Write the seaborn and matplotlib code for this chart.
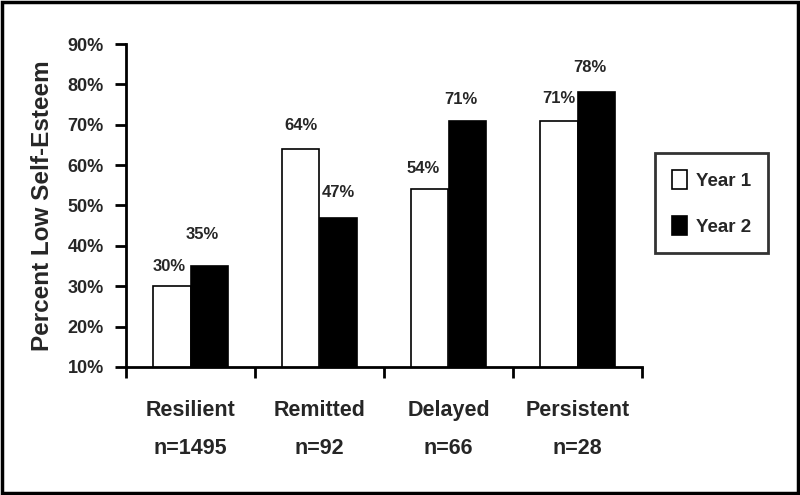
import matplotlib
matplotlib.use("Agg")
import matplotlib.pyplot as plt
import seaborn as sns
import pandas as pd
from matplotlib.patches import Rectangle

groups = ["Resilient", "Remitted", "Delayed", "Persistent"]
group_n = ["n=1495", "n=92", "n=66", "n=28"]
years = ["Year 1", "Year 2"]
year1 = [30, 64, 54, 71]
year2 = [35, 47, 71, 78]
y_ticks = [10, 20, 30, 40, 50, 60, 70, 80, 90]

sns.set_theme(style="white")
plt.rcParams["font.family"] = ["Liberation Sans", "DejaVu Sans"]
plt.rcParams["font.weight"] = "bold"

df = pd.DataFrame({
    "group": groups * 2,
    "year": [years[0]] * 4 + [years[1]] * 4,
    "value": year1 + year2,
})

fig = plt.figure(figsize=(8, 4.95), dpi=100)
ax = fig.add_axes([0.1575, 0.2586, 0.645, 0.6525])
sns.barplot(data=df, x="group", y="value", hue="year", order=groups,
            hue_order=years, palette=["white", "black"], edgecolor="black",
            linewidth=1.2, width=0.574, ax=ax, legend=True)

ax.set_ylim(10, 90)
ax.set_xlim(-0.5, 3.5)
ax.set_yticks(y_ticks)
ax.set_yticklabels([f"{v}%" for v in y_ticks], fontsize=13, fontweight="bold")
ax.set_xticks([-0.5, 0.5, 1.5, 2.5, 3.5])
ax.set_xticklabels([])
ax.set_xticks(range(len(groups)), minor=True)
ax.set_xticklabels([f"{g}\n{n}" for g, n in zip(groups, group_n)], minor=True,
                   fontsize=15.5, fontweight="bold", linespacing=2.05)
ax.tick_params(axis="x", which="minor", length=0, pad=24)
ax.tick_params(axis="x", which="major", direction="out", length=8, width=2, color="black", bottom=True)
ax.tick_params(axis="y", direction="out", length=8, width=2, color="black", left=True, pad=8)
for s in ["top", "right"]:
    ax.spines[s].set_visible(False)
for s in ["left", "bottom"]:
    ax.spines[s].set_linewidth(2)
    ax.spines[s].set_color("black")
ax.set_xlabel("")
ax.set_ylabel("Percent Low Self-Esteem", fontsize=17.5, fontweight="bold", labelpad=10)

# value labels
offsets1 = [14, 17, 15, 16]
offsets2 = [23, 18, 15, 18]
dx1 = [-0.02, 0.0, -0.05, 0.0]
dx2 = [-0.05, 0.0, -0.05, -0.05]
for i in range(len(groups)):
    ax.annotate(f"{year1[i]}%", (i - 0.1435 + dx1[i], year1[i]), xytext=(0, offsets1[i]),
                textcoords="offset points", ha="center", va="center", fontsize=12, fontweight="bold")
    ax.annotate(f"{year2[i]}%", (i + 0.1435 + dx2[i], year2[i]), xytext=(0, offsets2[i]),
                textcoords="offset points", ha="center", va="center", fontsize=12, fontweight="bold")

leg = ax.legend(loc="upper left", bbox_to_anchor=(655 / 800, 1 - 153 / 495),
                bbox_transform=fig.transFigure, frameon=True, fancybox=False,
                prop={"size": 13.5, "weight": "bold"}, handlelength=0.8, handleheight=1.2,
                labelspacing=1.4, borderpad=0.9, handletextpad=0.5, borderaxespad=0)
leg.get_frame().set_edgecolor("black")
leg.get_frame().set_linewidth(2)
for h in leg.legend_handles:
    h.set_edgecolor("black")
    h.set_linewidth(1.2)

fig.patches.append(Rectangle((0.003, 0.005), 0.994, 0.99, transform=fig.transFigure,
                             fill=False, edgecolor="black", linewidth=2.5))

fig.savefig("out.png", dpi=100)
